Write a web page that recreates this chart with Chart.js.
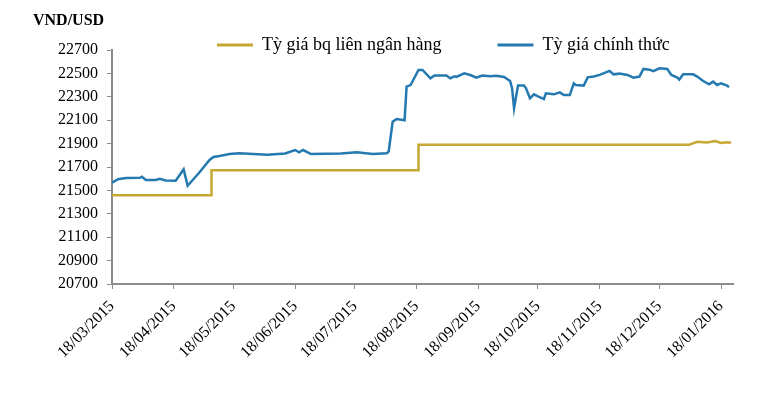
<!DOCTYPE html>
<html>
<head>
<meta charset="utf-8">
<script src="https://cdn.jsdelivr.net/npm/chart.js@4.4.1/dist/chart.umd.min.js"></script>
<style>
  html, body { margin: 0; padding: 0; background: #ffffff; }
  canvas { display: block; }
</style>
</head>
<body>
<canvas id="chart" width="780" height="400"></canvas>
<script>
// ---------- data (x = days counted from 18/03/2015) ----------
const unitLabel = 'VND/USD';
const seriesNames = ['Tỳ giá bq liên ngân hàng', 'Tỳ giá chính thức'];

const tickDays = [0, 31, 61, 92, 122, 153, 184, 214, 245, 275, 306];
const tickLabels = ['18/03/2015', '18/04/2015', '18/05/2015', '18/06/2015', '18/07/2015',
                    '18/08/2015', '18/09/2015', '18/10/2015', '18/11/2015', '18/12/2015', '18/01/2016'];
const yTicks = [20700, 20900, 21100, 21300, 21500, 21700, 21900, 22100, 22300, 22500, 22700];

// Interbank average rate (step series)
const bqDays  = [0, 50, 50, 154, 154, 290, 294, 299, 303, 306, 309, 311];
const bqRates = [21458, 21458, 21673, 21673, 21890, 21890, 21916, 21910, 21922, 21906, 21912, 21908];

// Official (commercial bank) rate
const ctDays = [0, 3, 7, 14, 15, 17, 22, 24, 27, 32,
                36, 38, 44, 49, 51, 54, 59, 64, 78, 87,
                92, 94, 96, 100, 115, 123, 131, 138, 139, 141,
                143, 147, 148, 150, 154, 156, 160, 162, 168, 170,
                172, 173, 177, 180, 183, 186, 190, 193, 197, 200,
                201, 202, 203, 204, 207, 208, 210, 212, 214, 217,
                218, 222, 225, 227, 230, 232, 233, 237, 239, 242,
                245, 250, 252, 255, 259, 262, 265, 267, 270, 272,
                275, 279, 281, 284, 285, 287, 292, 294, 297, 300,
                302, 304, 306, 309, 310];
const ctRates = [21566, 21595, 21606, 21608, 21617, 21589, 21589, 21600, 21585, 21583,
                 21680, 21540, 21655, 21760, 21785, 21794, 21811, 21817, 21805, 21815,
                 21845, 21825, 21845, 21811, 21815, 21826, 21811, 21817, 21831, 22087,
                 22110, 22100, 22387, 22400, 22529, 22529, 22458, 22482, 22482, 22458,
                 22475, 22470, 22500, 22486, 22463, 22482, 22475, 22480, 22469, 22435,
                 22373, 22202, 22300, 22396, 22396, 22373, 22287, 22321, 22304, 22281,
                 22330, 22321, 22338, 22315, 22315, 22415, 22401, 22396, 22466, 22473,
                 22487, 22521, 22492, 22498, 22487, 22464, 22473, 22538, 22532, 22520,
                 22543, 22538, 22487, 22464, 22447, 22492, 22492, 22473, 22435, 22407,
                 22430, 22401, 22415, 22396, 22382];

// ---------- chart ----------
const goldColor = '#c6a733';
const blueColor = '#2479b0';
const axisColor = '#8c8c8c';

Chart.defaults.font.family = "'Liberation Serif', 'Times New Roman', serif";
Chart.defaults.color = '#000000';

const toPoints = (xs, ys) => xs.map((x, i) => ({ x: x, y: ys[i] }));

// places the library legend where the reference shows it
const legendPlacer = {
  id: 'legendPlacer',
  afterLayout(chart) {
    const lg = chart.legend;
    if (!lg) return;
    const p = lg.options.labels.padding;
    lg.top = 36 - p;
    lg.bottom = 60;
    lg.height = lg.bottom - lg.top;
    lg.left = 217 - p;
    lg.right = 780;
    lg.width = lg.right - lg.left;
  }
};

new Chart(document.getElementById('chart'), {
  type: 'line',
  data: {
    datasets: [
      {
        label: seriesNames[0],
        data: toPoints(bqDays, bqRates),
        borderColor: goldColor,
        backgroundColor: goldColor,
        borderWidth: 2.5,
        pointRadius: 0,
        tension: 0,
        fill: false
      },
      {
        label: seriesNames[1],
        data: toPoints(ctDays, ctRates),
        borderColor: blueColor,
        backgroundColor: blueColor,
        borderWidth: 2.5,
        pointRadius: 0,
        tension: 0,
        fill: false
      }
    ]
  },
  options: {
    responsive: false,
    animation: false,
    devicePixelRatio: 1,
    events: [],
    layout: { padding: { top: 8, left: 33, right: 47, bottom: 0 } },
    plugins: {
      tooltip: { enabled: false },
      title: {
        display: true,
        text: unitLabel,
        align: 'start',
        color: '#000000',
        font: { size: 16, weight: 'bold', lineHeight: 1.125 },
        padding: { top: 4, bottom: 4 }
      },
      legend: {
        display: true,
        position: 'top',
        align: 'start',
        maxHeight: 16,
        labels: {
          boxWidth: 36,
          boxHeight: 3,
          padding: 56,
          color: '#000000',
          font: { size: 18 },
          generateLabels(chart) {
            const items = Chart.defaults.plugins.legend.labels.generateLabels(chart);
            items.forEach(it => { it.lineWidth = 0; });
            return items;
          }
        }
      }
    },
    scales: {
      x: {
        type: 'linear',
        min: 0,
        max: 312,
        afterBuildTicks: s => { s.ticks = tickDays.map(v => ({ value: v })); },
        afterFit: s => { s.height = 116; s.paddingLeft = 0; s.paddingRight = 0; },
        ticks: {
          autoSkip: false,
          minRotation: 45,
          maxRotation: 45,
          padding: 8,
          color: '#000000',
          font: { size: 16 },
          callback: (v, i) => tickLabels[i]
        },
        grid: { drawOnChartArea: false, drawTicks: true, tickLength: 5, color: axisColor, lineWidth: 1 },
        border: { display: true, color: axisColor, width: 2 }
      },
      y: {
        min: 20700,
        max: 22700,
        afterBuildTicks: s => { s.ticks = yTicks.map(v => ({ value: v })); },
        afterFit: s => { s.width = 79; s.paddingTop = 0; s.paddingBottom = 0; },
        ticks: {
          padding: 9,
          color: '#000000',
          font: { size: 16 },
          callback: v => String(v)
        },
        grid: { drawOnChartArea: false, drawTicks: true, tickLength: 5, color: axisColor, lineWidth: 1 },
        border: { display: true, color: axisColor, width: 2 }
      }
    }
  },
  plugins: [legendPlacer]
});
</script>
</body>
</html>
